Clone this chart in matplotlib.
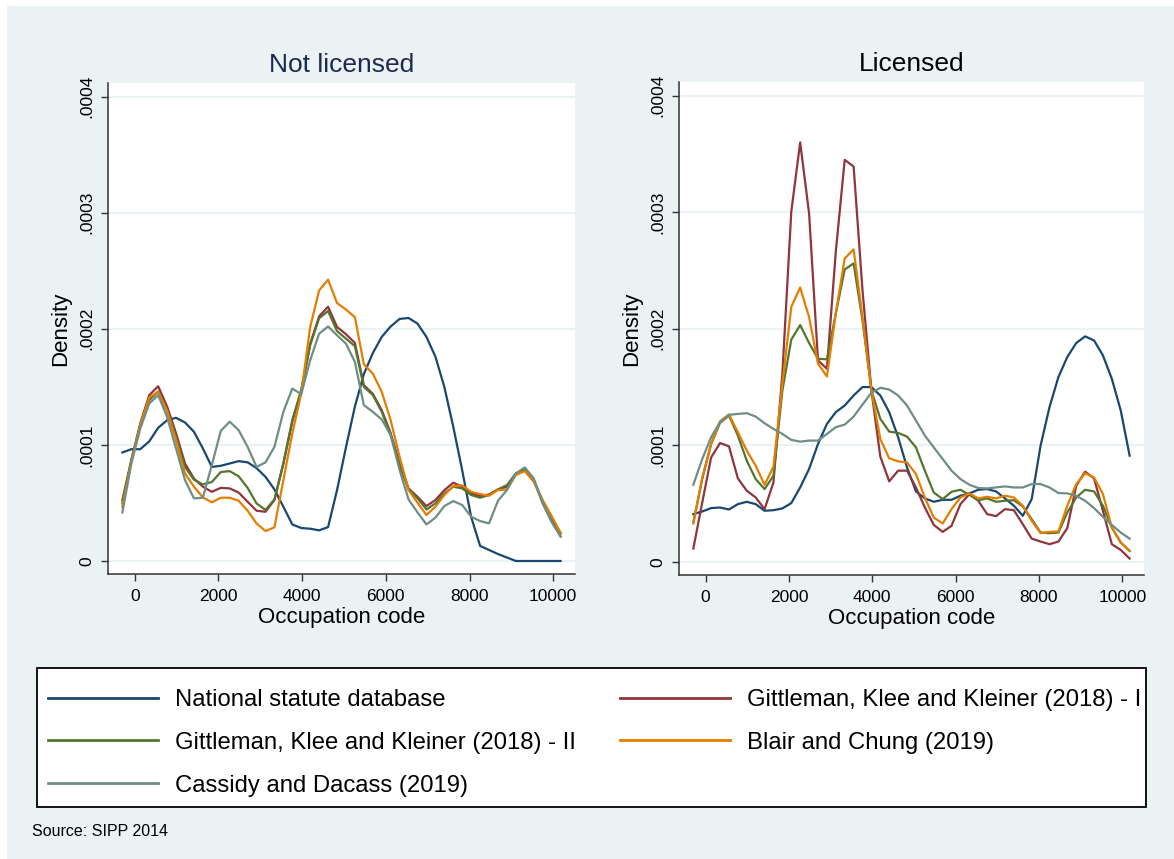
import numpy as np
import matplotlib
matplotlib.use("Agg")
import matplotlib.pyplot as plt
from matplotlib.patches import Rectangle

plt.rcParams['font.family'] = ['Liberation Sans', 'DejaVu Sans']

# kdensity evaluation grid (occupation code)
occ_code = [-296, -82, 131, 345, 559, 773, 986, 1200, 1414, 1627,
            1841, 2055, 2268, 2482, 2696, 2910, 3123, 3337, 3551, 3764,
            3978, 4192, 4405, 4619, 4833, 5047, 5260, 5474, 5688, 5901,
            6115, 6329, 6542, 6756, 6970, 7184, 7397, 7611, 7825, 8038,
            8252, 8466, 8679, 8893, 9107, 9321, 9534, 9748, 9962, 10175]

# densities below are in units of 1e-4
SCALE = 1e-4

# --- Not licensed ---
nl_national = [0.935, 0.963, 0.963, 1.03, 1.147, 1.213, 1.233, 1.193, 1.113, 0.97,
               0.81, 0.82, 0.84, 0.86, 0.85, 0.80, 0.725, 0.617, 0.467, 0.315,
               0.284, 0.278, 0.264, 0.292, 0.61, 0.98, 1.33, 1.61, 1.79, 1.93,
               2.02, 2.085, 2.093, 2.045, 1.93, 1.76, 1.50, 1.156, 0.78, 0.38,
               0.13, 0.095, 0.06, 0.03, 0.0, 0.0, 0.0, 0.0, 0.0, 0.0]
nl_gkk1 = [0.525, 0.87, 1.184, 1.428, 1.505, 1.33, 1.10, 0.84, 0.71, 0.64,
           0.596, 0.63, 0.625, 0.59, 0.51, 0.433, 0.424, 0.525, 0.84, 1.20,
           1.47, 1.87, 2.107, 2.19, 2.016, 1.953, 1.878, 1.514, 1.44, 1.30,
           1.10, 0.84, 0.625, 0.553, 0.473, 0.525, 0.61, 0.674, 0.64, 0.582,
           0.56, 0.573, 0.617, 0.64, 0.754, 0.78, 0.697, 0.51, 0.367, 0.238]
nl_gkk2 = [0.496, 0.87, 1.17, 1.385, 1.46, 1.30, 1.07, 0.81, 0.70, 0.66,
           0.68, 0.766, 0.774, 0.73, 0.63, 0.496, 0.44, 0.53, 0.84, 1.213,
           1.47, 1.86, 2.09, 2.153, 1.98, 1.915, 1.85, 1.50, 1.43, 1.285,
           1.084, 0.826, 0.616, 0.54, 0.444, 0.496, 0.582, 0.64, 0.625, 0.568,
           0.545, 0.568, 0.616, 0.654, 0.754, 0.797, 0.697, 0.496, 0.338, 0.215]
nl_blair = [0.467, 0.855, 1.17, 1.408, 1.457, 1.293, 1.04, 0.754, 0.64, 0.548,
            0.505, 0.545, 0.545, 0.519, 0.433, 0.324, 0.258, 0.29, 0.697, 1.098,
            1.442, 2.016, 2.33, 2.423, 2.222, 2.165, 2.10, 1.695, 1.614, 1.457,
            1.213, 0.897, 0.611, 0.502, 0.396, 0.467, 0.568, 0.645, 0.651, 0.596,
            0.576, 0.562, 0.611, 0.616, 0.74, 0.774, 0.682, 0.525, 0.387, 0.244]
nl_cassidy = [0.419, 0.84, 1.14, 1.356, 1.428, 1.24, 0.969, 0.697, 0.539, 0.545,
              0.826, 1.121, 1.2, 1.127, 0.983, 0.811, 0.849, 0.983, 1.285, 1.485,
              1.437, 1.73, 1.958, 2.02, 1.944, 1.872, 1.715, 1.342, 1.285, 1.219,
              1.084, 0.783, 0.53, 0.419, 0.315, 0.373, 0.473, 0.516, 0.482, 0.381,
              0.344, 0.324, 0.519, 0.611, 0.754, 0.806, 0.711, 0.505, 0.338, 0.209]

# --- Licensed ---
li_national = [0.41, 0.433, 0.462, 0.467, 0.45, 0.496, 0.516, 0.496, 0.439, 0.444,
               0.459, 0.505, 0.639, 0.797, 1.012, 1.184, 1.285, 1.342, 1.428, 1.50,
               1.50, 1.428, 1.285, 1.07, 0.811, 0.605, 0.545, 0.516, 0.533, 0.533,
               0.568, 0.588, 0.619, 0.625, 0.605, 0.545, 0.482, 0.396, 0.539, 0.998,
               1.328, 1.586, 1.758, 1.878, 1.935, 1.90, 1.772, 1.571, 1.299, 0.912]
li_gkk1 = [0.115, 0.51, 0.897, 1.02, 0.992, 0.717, 0.611, 0.553, 0.453, 0.682,
           1.614, 3.005, 3.599, 2.99, 1.729, 1.657, 2.661, 3.449, 3.392, 2.331,
           1.471, 0.903, 0.691, 0.783, 0.783, 0.639, 0.467, 0.318, 0.258, 0.31,
           0.496, 0.582, 0.525, 0.41, 0.393, 0.453, 0.444, 0.324, 0.20, 0.175,
           0.152, 0.175, 0.29, 0.654, 0.774, 0.717, 0.439, 0.152, 0.103, 0.029]
li_gkk2 = [0.338, 0.711, 1.012, 1.193, 1.256, 1.084, 0.869, 0.711, 0.625, 0.74,
           1.471, 1.907, 2.032, 1.878, 1.743, 1.738, 2.131, 2.509, 2.561, 2.073,
           1.471, 1.227, 1.118, 1.107, 1.075, 0.983, 0.783, 0.596, 0.539, 0.602,
           0.619, 0.576, 0.53, 0.545, 0.516, 0.525, 0.53, 0.476, 0.367, 0.252,
           0.247, 0.252, 0.424, 0.553, 0.619, 0.605, 0.482, 0.295, 0.166, 0.095]
li_blair = [0.33, 0.725, 1.012, 1.207, 1.265, 1.113, 0.955, 0.826, 0.662, 0.817,
            1.528, 2.188, 2.354, 2.10, 1.70, 1.591, 2.131, 2.604, 2.681, 2.10,
            1.471, 1.055, 0.889, 0.863, 0.854, 0.754, 0.553, 0.381, 0.33, 0.453,
            0.553, 0.588, 0.545, 0.559, 0.545, 0.568, 0.553, 0.482, 0.353, 0.247,
            0.258, 0.261, 0.482, 0.668, 0.76, 0.725, 0.582, 0.295, 0.166, 0.095]
li_cassidy = [0.662, 0.883, 1.07, 1.199, 1.262, 1.27, 1.276, 1.247, 1.19, 1.141,
              1.098, 1.047, 1.032, 1.041, 1.041, 1.098, 1.156, 1.178, 1.247, 1.35,
              1.451, 1.494, 1.479, 1.428, 1.342, 1.213, 1.084, 0.983, 0.883, 0.783,
              0.711, 0.662, 0.634, 0.631, 0.639, 0.648, 0.639, 0.639, 0.668, 0.668,
              0.639, 0.591, 0.588, 0.568, 0.525, 0.462, 0.387, 0.318, 0.252, 0.20]

labels = ['National statute database',
          'Gittleman, Klee and Kleiner (2018) - I',
          'Gittleman, Klee and Kleiner (2018) - II',
          'Blair and Chung (2019)',
          'Cassidy and Dacass (2019)']
colors = ['#1A476F', '#90353B', '#55752F', '#E37E00', '#6E8E84']

x_ticks = [0, 2000, 4000, 6000, 8000, 10000]
y_ticks = [0, 0.0001, 0.0002, 0.0003, 0.0004]
y_tick_labels = ['0', '.0001', '.0002', '.0003', '.0004']

W, H = 1174, 859
BG = '#EAF2F3'

fig = plt.figure(figsize=(W / 100, H / 100), dpi=100, facecolor='white')
fig.add_artist(Rectangle((7 / W, 0), 1 - 7 / W, 1 - 6 / H, transform=fig.transFigure,
                         facecolor=BG, edgecolor='none', zorder=-10))


def draw_panel(ax, series, title, title_color):
    lines = []
    for vals, lab, col in zip(series, labels, colors):
        ln, = ax.plot(occ_code, np.array(vals) * SCALE, color=col, lw=1.6, label=lab)
        lines.append(ln)
    ax.set_xlim(-640, 10520)
    ax.set_ylim(-0.0000112, 0.0004117)
    ax.set_xticks(x_ticks)
    ax.set_xticklabels([str(t) for t in x_ticks])
    ax.set_yticks(y_ticks)
    ax.set_yticklabels(y_tick_labels, rotation=90, va='center')
    ax.yaxis.grid(True, color=BG, lw=1.6)
    ax.set_axisbelow(True)
    ax.set_facecolor('white')
    for s in ['top', 'right']:
        ax.spines[s].set_visible(False)
    for s in ['left', 'bottom']:
        ax.spines[s].set_color('#333333')
        ax.spines[s].set_linewidth(1.1)
    ax.tick_params(length=5, width=1, color='#333333', labelsize=12.5, pad=5)
    ax.tick_params(axis='x', pad=6)
    ax.set_xlabel('Occupation code', fontsize=16, labelpad=2)
    ax.set_ylabel('Density', fontsize=16, labelpad=6)
    ax.set_title(title, fontsize=19, color=title_color, pad=8)
    return lines


ax1 = fig.add_axes([108 / W, 1 - 574 / H, 467 / W, 491 / H])
lines = draw_panel(ax1, [nl_national, nl_gkk1, nl_gkk2, nl_blair, nl_cassidy],
                   'Not licensed', '#1C2A4E')
ax2 = fig.add_axes([679 / W, 1 - 575 / H, 465 / W, 493 / H])
draw_panel(ax2, [li_national, li_gkk1, li_gkk2, li_blair, li_cassidy],
           'Licensed', 'black')

# legend box drawn separately so the padding can match stata's
fig.add_artist(Rectangle((37 / W, 1 - 807 / H), (1146 - 37) / W, (807 - 668) / H,
                         transform=fig.transFigure, facecolor='white',
                         edgecolor='black', lw=1.3, zorder=1))

# legend: stata fills row-wise, matplotlib column-wise
order = [0, 2, 4, 1, 3]
leg = fig.legend([lines[i] for i in order], [labels[i] for i in order],
                 ncol=2, loc='upper left', mode='expand',
                 bbox_to_anchor=(48 / W, 1 - 805 / H, (1141 - 48) / W, (805 - 689) / H),
                 fontsize=17.2, handlelength=4.6, handletextpad=0.7,
                 labelspacing=0.87, borderpad=0, borderaxespad=0,
                 frameon=False)
leg.set_zorder(2)
for ln in leg.get_lines():
    ln.set_linewidth(2)

fig.text(32 / W, 1 - 832 / H, 'Source: SIPP 2014', fontsize=11.5, va='center', ha='left')

fig.savefig('out.png', dpi=100, facecolor=fig.get_facecolor())
